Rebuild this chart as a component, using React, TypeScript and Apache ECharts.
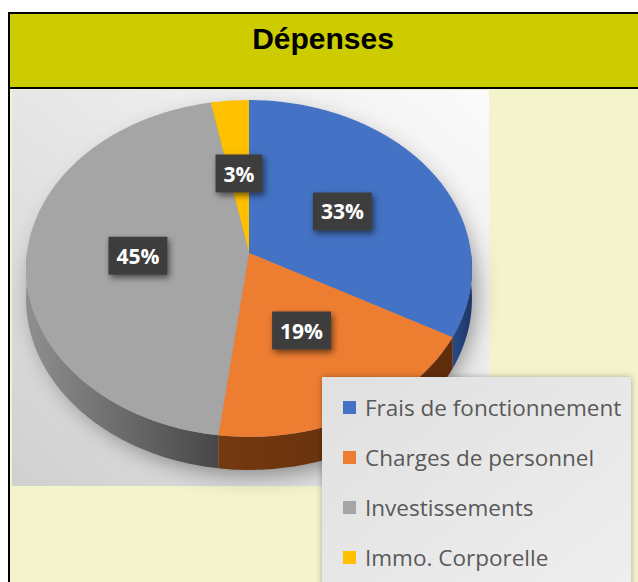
import React, { useEffect, useRef } from "react";
import * as echarts from "echarts";

const title = "Dépenses";
const categories = [
  "Frais de fonctionnement",
  "Charges de personnel",
  "Investissements",
  "Immo. Corporelle",
];
const values = [33, 19, 45, 3];
const topColors = ["#4472C4", "#ED7D31", "#A5A5A5", "#FFC000"];
const sideColors = [
  ["#2a4a86", "#1d3669"],
  ["#74390f", "#5f2d0c"],
  ["#8f8f8f", "#474747"],
  ["#a07800", "#806000"],
];

// 3D pie projection constants (layout only)
const CX = 249;
const CY = 253;
const R = 222;
const RY = 167;
const P = 0.092;
const DEPTH = 30;

function proj(aDeg: number, r: number, z: number): number[] {
  const a = (aDeg * Math.PI) / 180;
  const u = r * Math.sin(a);
  const v = -r * Math.cos(a);
  const s = 1 / (1 - P * v);
  return [CX + R * u * s, CY + RY * v * s + DEPTH * z * s];
}

function arcPts(a1: number, a2: number, r: number, z: number): number[][] {
  const n = Math.max(2, Math.ceil(Math.abs(a2 - a1)));
  const pts: number[][] = [];
  for (let k = 0; k <= n; k++) {
    pts.push(proj(a1 + ((a2 - a1) * k) / n, r, z));
  }
  return pts;
}

function makeRenderItem(i: number) {
  return (params: any, api: any) => {
    const total = values.reduce((s, v) => s + v, 0);
    const before = values.slice(0, i).reduce((s, v) => s + v, 0);
    const val = api.value(0);
    const start = (before / total) * 360;
    const end = ((before + val) / total) * 360;
    const children: any[] = [];
    const b1 = Math.max(start, 90);
    const b2 = Math.min(end, 270);
    if (b2 > b1) {
      const top = arcPts(b1, b2, 1, 0);
      const bot = arcPts(b2, b1, 1, 1);
      children.push({
        type: "polygon",
        shape: { points: top.concat(bot) },
        style: {
          fill: new echarts.graphic.LinearGradient(0, 0, 1, 0, [
            { offset: 0, color: sideColors[i][0] },
            { offset: 1, color: sideColors[i][1] },
          ]),
        },
      });
    }
    const topPts = [proj(0, 0, 0)].concat(arcPts(start, end, 1, 0));
    children.push({
      type: "polygon",
      shape: { points: topPts },
      style: { fill: api.visual("color") },
    });
    const mid = (start + end) / 2;
    const lp = proj(mid, 0.5, 0);
    children.push({
      type: "text",
      x: lp[0],
      y: lp[1],
      z2: 20,
      style: {
        text: Math.round((val / total) * 100) + "%",
        fill: "#ffffff",
        fontSize: 21,
        fontWeight: "bold",
        fontFamily: "Open Sans",
        align: "center",
        verticalAlign: "middle",
        backgroundColor: "#3d3d3d",
        padding: [9, 8, 8, 8],
        shadowBlur: 6,
        shadowColor: "rgba(0,0,0,0.55)",
        shadowOffsetX: 2,
        shadowOffsetY: 3,
      },
    });
    return { type: "group", children };
  };
}

export default function App() {
  const ref = useRef<HTMLDivElement>(null);
  useEffect(() => {
    if (!ref.current) return;
    const chart = echarts.init(ref.current, undefined, { renderer: "svg" });
    const series = categories.map((name, i) => ({
      type: "custom",
      name,
      coordinateSystem: "none",
      itemStyle: { color: topColors[i] },
      data: [{ value: values[i], name }],
      renderItem: makeRenderItem(i),
      z: 2,
    }));
    chart.setOption({
      animation: false,
      legend: {
        orient: "vertical",
        left: 343,
        top: 388,
        padding: 0,
        itemGap: 11,
        itemWidth: 13,
        itemHeight: 13,
        icon: "rect",
        selectedMode: false,
        z: 20,
        data: categories,
        textStyle: {
          color: "#595959",
          fontSize: 22.5,
          fontFamily: "Open Sans",
          lineHeight: 22,
          padding: [0, 0, 17, 4],
        },
      },
      graphic: [
        { type: "rect", z: -6, silent: true, shape: { x: 8, y: 12, width: 640, height: 600 }, style: { fill: "#000" } },
        { type: "rect", z: -5, silent: true, shape: { x: 10, y: 14, width: 640, height: 73 }, style: { fill: "#CCCC00" } },
        { type: "rect", z: -5, silent: true, shape: { x: 10, y: 89, width: 640, height: 600 }, style: { fill: "#F3F3CC" } },
        {
          type: "text", z: -4, silent: true, x: 323, y: 38,
          style: { text: title, fill: "#000", fontSize: 30, fontWeight: "bold", fontFamily: "Liberation Sans", align: "center", verticalAlign: "middle" },
        },
        {
          type: "rect", z: -4, silent: true, shape: { x: 12, y: 90, width: 477, height: 396 },
          style: {
            fill: new echarts.graphic.LinearGradient(1, 0, 0, 1, [
              { offset: 0, color: "#fbfbfb" },
              { offset: 0.5, color: "#e6e6e6" },
              { offset: 1, color: "#d0d0d0" },
            ]),
          },
        },
        {
          type: "ellipse", z: -3, silent: true, shape: { cx: 250, cy: 287, rx: 221, ry: 180 },
          style: { fill: "#999", shadowBlur: 24, shadowColor: "rgba(0,0,0,0.45)", shadowOffsetX: 4, shadowOffsetY: 6 },
        },
        {
          type: "rect", z: 10, silent: true, shape: { x: 322, y: 377, width: 309, height: 230 },
          style: {
            fill: new echarts.graphic.LinearGradient(0, 0, 1, 1, [
              { offset: 0, color: "#e0e0e0" },
              { offset: 1, color: "#efefef" },
            ]),
            shadowBlur: 6,
            shadowColor: "rgba(0,0,0,0.3)",
          },
        },
      ],
      series,
    });
    return () => chart.dispose();
  }, []);
  return (
    <div
      ref={ref}
      style={{ position: "fixed", left: 0, top: 0, width: 638, height: 582, background: "#fff" }}
    />
  );
}
